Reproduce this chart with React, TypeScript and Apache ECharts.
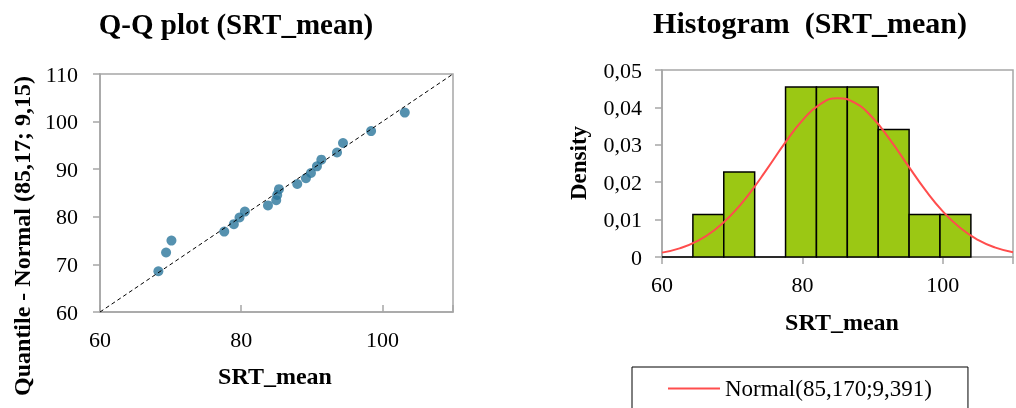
import React, { useEffect, useRef } from "react";
import * as echarts from "echarts";

// Q-Q plot data (observed SRT_mean vs theoretical normal quantile)
const qqObserved = [68.27, 69.36, 70.12, 77.6, 78.96, 79.76, 80.52, 83.79, 84.96, 85.1, 85.35, 87.94, 89.17, 89.88, 90.73, 91.35, 93.57, 94.42, 98.4, 103.17];
const qqTheoretical = [68.56, 72.5, 75.0, 76.9, 78.45, 79.86, 81.1, 82.4, 83.5, 84.6, 85.8, 86.9, 88.1, 89.2, 90.6, 92.0, 93.5, 95.5, 98.0, 101.9];
const refLine = [[60, 60], [110, 110]];

// Histogram bins
const binLower = [60, 64.4, 68.8, 73.2, 77.6, 82.0, 86.4, 90.8, 95.2, 99.6];
const binUpper = [64.4, 68.8, 73.2, 77.6, 82.0, 86.4, 90.8, 95.2, 99.6, 104.0];
const binDensity = [0, 0.01136, 0.02273, 0, 0.04545, 0.04545, 0.04545, 0.03409, 0.01136, 0.01136];

// Normal curve
const curveX = [60, 62.5, 65, 67.5, 70, 72.5, 75, 77.5, 80, 82.5, 85, 87.5, 90, 92.5, 95, 97.5, 100, 102.5, 105, 107.5, 110];
const curveY = [0.00117, 0.00231, 0.00423, 0.00723, 0.01152, 0.0171, 0.02364, 0.03043, 0.03651, 0.0408, 0.04247, 0.04119, 0.03722, 0.03132, 0.02456, 0.01794, 0.01221, 0.00774, 0.00457, 0.00252, 0.00129];

const legendName = "Normal(85,170;9,391)";
const densityTicks = ["0", "0,01", "0,02", "0,03", "0,04", "0,05"];

const FONT = "'Liberation Serif', 'Times New Roman', serif";
const AXIS_GRAY = "#a6a6a6";

export default function App() {
  const ref = useRef<HTMLDivElement>(null);
  useEffect(() => {
    if (!ref.current) return;
    const chart = echarts.init(ref.current, null, { renderer: "svg" });
    const labelStyle = { fontFamily: FONT, fontSize: 22, color: "#000" };
    chart.setOption({
      animation: false,
      textStyle: { fontFamily: FONT },
      grid: [
        { left: 100, top: 74, width: 353, height: 238, show: true, borderColor: AXIS_GRAY, borderWidth: 1.5, backgroundColor: "transparent" },
        { left: 662, top: 70, width: 360, height: 187, show: true, borderColor: AXIS_GRAY, borderWidth: 1.5, backgroundColor: "transparent" },
      ],
      xAxis: [
        {
          gridIndex: 0, type: "value", min: 60, max: 110, interval: 20,
          axisLine: { lineStyle: { color: AXIS_GRAY, width: 1.5 } },
          axisTick: { show: true, inside: true, length: 7, lineStyle: { color: AXIS_GRAY, width: 1.5 } },
          splitLine: { show: false },
          axisLabel: { ...labelStyle, margin: 16, formatter: (v: number) => (v === 110 ? "" : String(v)) },
        },
        {
          gridIndex: 1, type: "value", min: 60, max: 110, interval: 20,
          axisLine: { lineStyle: { color: AXIS_GRAY, width: 1.5 } },
          axisTick: { show: true, inside: false, length: 7, lineStyle: { color: AXIS_GRAY, width: 1.5 } },
          splitLine: { show: false },
          axisLabel: { ...labelStyle, margin: 16, formatter: (v: number) => (v === 110 ? "" : String(v)) },
        },
      ],
      yAxis: [
        {
          gridIndex: 0, type: "value", min: 60, max: 110, interval: 10,
          axisLine: { show: true, lineStyle: { color: AXIS_GRAY, width: 1.5 } },
          axisTick: { show: true, inside: false, length: 7, lineStyle: { color: AXIS_GRAY, width: 1.5 } },
          splitLine: { show: false },
          axisLabel: { ...labelStyle, margin: 22 },
        },
        {
          gridIndex: 1, type: "value", min: 0, max: 0.05, interval: 0.01,
          axisLine: { show: true, lineStyle: { color: AXIS_GRAY, width: 1.5 } },
          axisTick: { show: true, inside: false, length: 7, lineStyle: { color: AXIS_GRAY, width: 1.5 } },
          splitLine: { show: false },
          axisLabel: { ...labelStyle, margin: 20, formatter: (v: number) => densityTicks[Math.round(v * 100)] ?? "" },
        },
      ],
      legend: {
        data: [{ name: legendName, icon: "rect" }],
        left: 632, top: 367,
        orient: "horizontal",
        padding: [10, 36, 20, 36],
        borderColor: "#000", borderWidth: 1,
        itemWidth: 52, itemHeight: 2,
        textStyle: { fontFamily: FONT, fontSize: 23, color: "#000" },
      },
      series: [
        {
          type: "line", xAxisIndex: 0, yAxisIndex: 0, data: refLine,
          symbol: "none", lineStyle: { color: "#000", width: 1, type: [4, 3] }, silent: true,
        },
        {
          type: "scatter", xAxisIndex: 0, yAxisIndex: 0,
          data: qqObserved.map((x, i) => [x, qqTheoretical[i]]),
          symbolSize: 10, itemStyle: { color: "#2A769B" },
        },
        {
          type: "custom", xAxisIndex: 1, yAxisIndex: 1,
          data: binLower.map((lo, i) => [lo, binUpper[i], binDensity[i]]),
          encode: { x: [0, 1], y: 2 },
          renderItem: (params: any, api: any) => {
            const d = api.value(2);
            const p0 = api.coord([api.value(0), d]);
            const p1 = api.coord([api.value(1), 0]);
            return {
              type: "rect",
              shape: { x: p0[0], y: p0[1], width: p1[0] - p0[0], height: p1[1] - p0[1] },
              style: { fill: d > 0 ? "#9BC814" : "none", stroke: "#000", lineWidth: 1.5 },
            };
          },
        },
        {
          name: legendName,
          type: "line", xAxisIndex: 1, yAxisIndex: 1,
          data: curveX.map((x, i) => [x, curveY[i]]),
          smooth: true, symbol: "none", showSymbol: false,
          lineStyle: { color: "#FF4D4D", width: 2 },
          itemStyle: { color: "#FF4D4D" },
          z: 5,
        },
      ],
      graphic: [
        { type: "text", x: 236, y: 24, style: { text: "Q-Q plot (SRT_mean)", font: `bold 29px ${FONT}`, fill: "#000", textAlign: "center", textVerticalAlign: "middle" } },
        { type: "text", x: 810, y: 22, style: { text: "Histogram  (SRT_mean)", font: `bold 30px ${FONT}`, fill: "#000", textAlign: "center", textVerticalAlign: "middle" } },
        { type: "text", x: 275, y: 376, style: { text: "SRT_mean", font: `bold 24px ${FONT}`, fill: "#000", textAlign: "center", textVerticalAlign: "middle" } },
        { type: "text", x: 842, y: 322, style: { text: "SRT_mean", font: `bold 24px ${FONT}`, fill: "#000", textAlign: "center", textVerticalAlign: "middle" } },
        { type: "text", x: 22, y: 236, rotation: Math.PI / 2, style: { text: "Quantile - Normal (85,17; 9,15)", font: `bold 24px ${FONT}`, fill: "#000", textAlign: "center", textVerticalAlign: "middle" } },
        { type: "text", x: 578, y: 163, rotation: Math.PI / 2, style: { text: "Density", font: `bold 23px ${FONT}`, fill: "#000", textAlign: "center", textVerticalAlign: "middle" } },
      ],
    });
    return () => chart.dispose();
  }, []);
  return <div ref={ref} style={{ position: "fixed", left: 0, top: 0, width: 1016, height: 408 }} />;
}
